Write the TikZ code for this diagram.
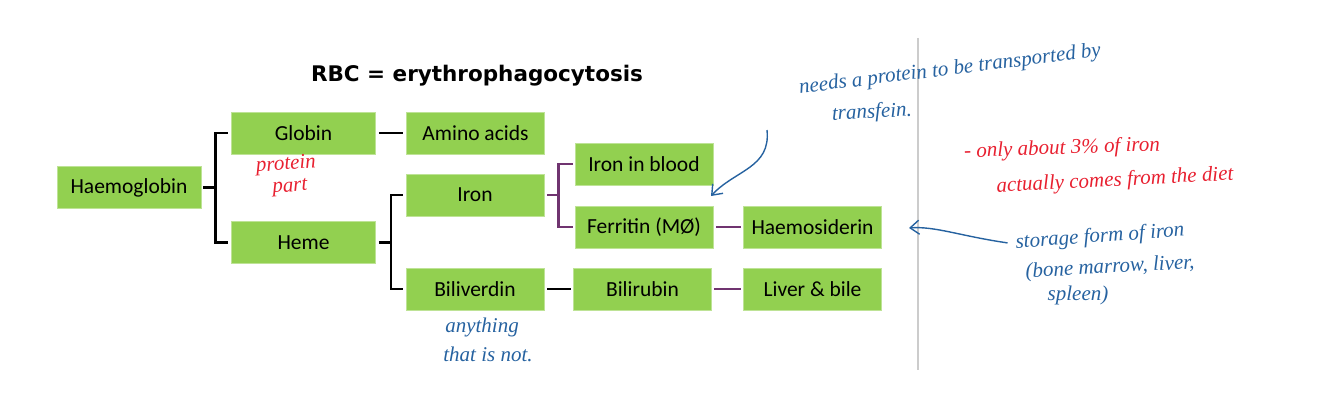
\documentclass[tikz,border=0pt]{standalone}
\usepackage{fontspec}
\setmainfont{Carlito}
\newfontfamily\titlefont{DejaVu Sans}
\newfontfamily\handfont{Liberation Serif}
\usetikzlibrary{arrows.meta, positioning, calc}
\definecolor{boxgreen}{RGB}{146,208,80}
\definecolor{linkpurple}{RGB}{112,52,112}
\definecolor{inkblue}{RGB}{38,98,160}
\definecolor{inkred}{RGB}{232,32,48}
\begin{document}
\begin{tikzpicture}[
  x=1pt, y=-1pt,
  stufe/.style={fill=boxgreen, draw=boxgreen!60!white, line width=0.8pt, minimum width=138pt,
                minimum height=42pt, inner sep=0pt,
                font=\fontsize{21.5}{24}\selectfont},
  largo/.style={stufe, minimum width=144pt},
  link/.style={draw=black, line width=2.6pt},
  plink/.style={draw=linkpurple, line width=2.6pt},
  blu/.style={text=inkblue, font=\handfont\itshape\fontsize{21}{24}\selectfont, inner sep=0pt},
  rosso/.style={text=inkred, font=\handfont\itshape\fontsize{21}{24}\selectfont, inner sep=0pt},
  freccia/.style={draw=inkblue, line width=1.4pt, -{Straight Barb[length=9pt,width=14pt]}}
]
\useasboundingbox (0,0) rectangle (1334,412);

% title
\node[font=\titlefont\bfseries\fontsize{21.5}{26}\selectfont] (titolo) at (477,76)
  {RBC = erythrophagocytosis};

% boxes
\node[largo] (hb)       at (129,187.5)  {Haemoglobin};
\node[largo] (globin)   at (303.5,133)  {Globin};
\node[largo] (heme)     at (303.5,242.5) {Heme};
\node[stufe] (amino)    at (475.5,133)  {Amino acids};
\node[stufe] (iron)     at (475,195)    {Iron};
\node[stufe] (bilivd)   at (475,289)    {Biliverdin};
\node[stufe] (blood)    at (644,164)    {Iron in blood};
\node[stufe] (ferritin) at (644,227)    {Ferritin (MØ)};
\node[stufe] (haemos)   at (812.5,227)  {Haemosiderin};
\node[stufe] (bilirub)  at (642.5,289)  {Bilirubin};
\node[stufe] (liver)    at (812.5,289)  {Liver \& bile};

% brackets and links
\draw[link] ([xshift=2]hb.east) -- ++(12,0) |- ([xshift=-3]globin.west);
\draw[link] ([xshift=2]hb.east) ++(12,0) |- ([xshift=-3]heme.west);
\draw[link] ([xshift=3]globin.east) -- ([xshift=-3]amino.west);
\draw[link] ([xshift=3]heme.east) -- ++(12,0) |- ([xshift=-3]iron.west);
\draw[link] ([xshift=3]heme.east) ++(12,0) |- ([xshift=-3]bilivd.west);
\draw[plink] ([xshift=3]iron.east) -- ++(11,0) |- ([xshift=-2]blood.west);
\draw[plink] ([xshift=3]iron.east) ++(11,0) |- ([xshift=-2]ferritin.west);
\draw[plink] ([xshift=3]ferritin.east) -- ([xshift=-2]haemos.west);
\draw[link] ([xshift=3]bilivd.east) -- ([xshift=-2]bilirub.west);
\draw[plink] ([xshift=2]bilirub.east) -- ([xshift=-2]liver.west);

% divider
\draw[black!20, line width=2pt] (918,38) -- (918,370);

% notes
\node[rosso, rotate=4] (protein) at (286,165) {protein};
\node[rosso, rotate=4] (part)    at (290,188) {part};
\node[blu, rotate=7] (needs)    at (950,70)  {needs a protein to be transported by};
\node[blu, rotate=3] (transf)   at (872,113) {transfein.};
\node[rosso, rotate=2] (only)   at (1062,149) {- only about 3\% of iron};
\node[rosso, rotate=3] (diet)   at (1115,181) {actually comes from the diet};
\node[blu, rotate=4] (storage)  at (1100,237) {storage form of iron};
\node[blu, rotate=3] (marrow)   at (1110,268) {(bone marrow, liver,};
\node[blu] (spleen)             at (1078,295) {spleen)};
\node[blu] (anything)           at (482,327)  {anything};
\node[blu] (notline)            at (488,354)  {that is not.};

\coordinate (tipblood) at (711,196);
\coordinate (tiphaem)  at (909,228);
\coordinate (needsfoot) at (767,130);
\draw[freccia] (needsfoot) .. controls +(4,38) and (735,170) .. (tipblood);
\draw[freccia] ([xshift=-8]storage.west) .. controls (960,236) and (935,226) .. (tiphaem);

\end{tikzpicture}
\end{document}
